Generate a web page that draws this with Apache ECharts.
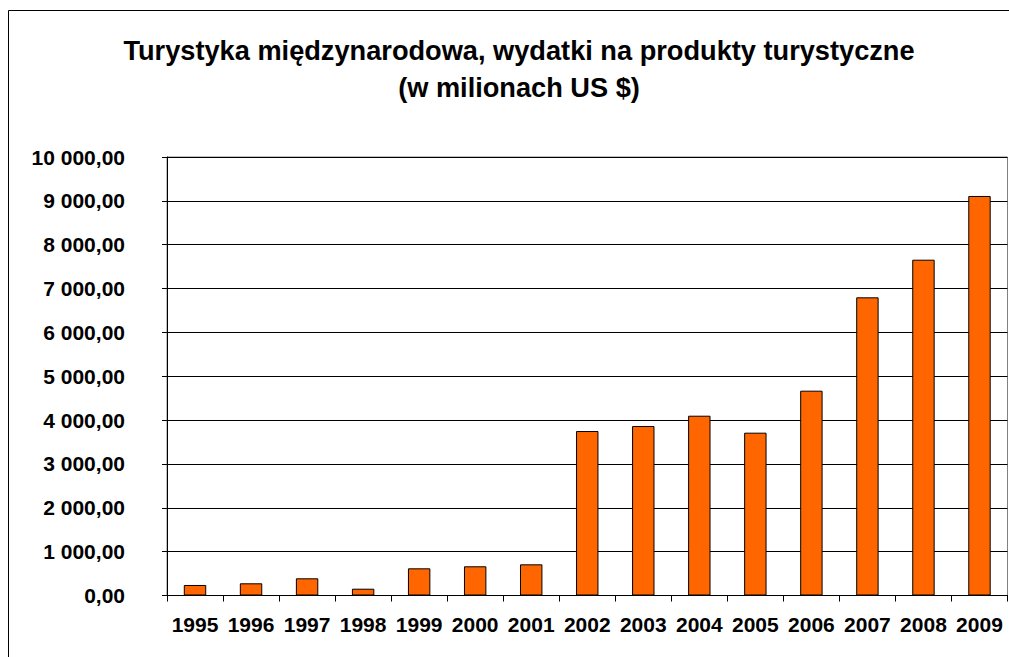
<!DOCTYPE html>
<html>
<head>
<meta charset="utf-8">
<script src="https://cdn.jsdelivr.net/npm/echarts@6/dist/echarts.min.js"></script>
<style>
html,body{margin:0;padding:0;background:#fff;}
#chart{width:1009px;height:657px;}
</style>
</head>
<body>
<div id="chart"></div>
<script>
const titleLines = ['Turystyka międzynarodowa, wydatki na produkty turystyczne', '(w milionach US $)'];
const years = ['1995','1996','1997','1998','1999','2000','2001','2002','2003','2004','2005','2006','2007','2008','2009'];
const expenditure = [240, 278, 392, 155, 620, 666, 711, 3751, 3865, 4100, 3713, 4671, 6800, 7658, 9111];
const yTickLabels = ['0,00','1 000,00','2 000,00','3 000,00','4 000,00','5 000,00','6 000,00','7 000,00','8 000,00','9 000,00','10 000,00'];

const chart = echarts.init(document.getElementById('chart'), null, {renderer: 'svg'});
const font = '"Liberation Sans", Arial, sans-serif';
chart.setOption({
  animation: false,
  backgroundColor: '#fff',
  title: {
    text: titleLines.join('\n'),
    left: 514,
    textAlign: 'center',
    top: 27,
    textStyle: {fontFamily: font, fontWeight: 'bold', fontSize: 27.2, lineHeight: 37, color: '#000'}
  },
  graphic: [{
    type: 'line', silent: true, z: -1,
    shape: {x1: 8.5, y1: 657, x2: 8.5, y2: 10.5},
    style: {stroke: '#000', lineWidth: 1}
  }, {
    type: 'line', silent: true, z: -1,
    shape: {x1: 8.5, y1: 10.5, x2: 1009, y2: 10.5},
    style: {stroke: '#000', lineWidth: 1}
  }],
  grid: {left: 167, right: 1.5, top: 157, bottom: 61.5, show: true, borderColor: '#808080', borderWidth: 1, backgroundColor: 'transparent', containLabel: false},
  xAxis: {
    type: 'category',
    data: years,
    axisLine: {lineStyle: {color: '#000', width: 1}},
    axisTick: {show: true, length: 6, lineStyle: {color: '#000'}},
    axisLabel: {fontFamily: font, fontWeight: 'bold', fontSize: 21, color: '#000', margin: 18, interval: 0},
    splitLine: {show: false}
  },
  yAxis: {
    type: 'value',
    min: 0, max: 10000, interval: 1000,
    axisLine: {show: true, lineStyle: {color: '#000', width: 1}},
    axisTick: {show: true, length: 5, lineStyle: {color: '#000'}},
    axisLabel: {fontFamily: font, fontWeight: 'bold', fontSize: 21, color: '#000', margin: 42,
      formatter: function (v) { return yTickLabels[Math.round(v / 1000)]; }},
    splitLine: {show: true, lineStyle: {color: '#000', width: 1}}
  },
  series: [{
    type: 'bar',
    data: expenditure,
    barWidth: '40%',
    itemStyle: {color: '#FF6600', borderColor: '#000', borderWidth: 1}
  }]
});
</script>
</body>
</html>
